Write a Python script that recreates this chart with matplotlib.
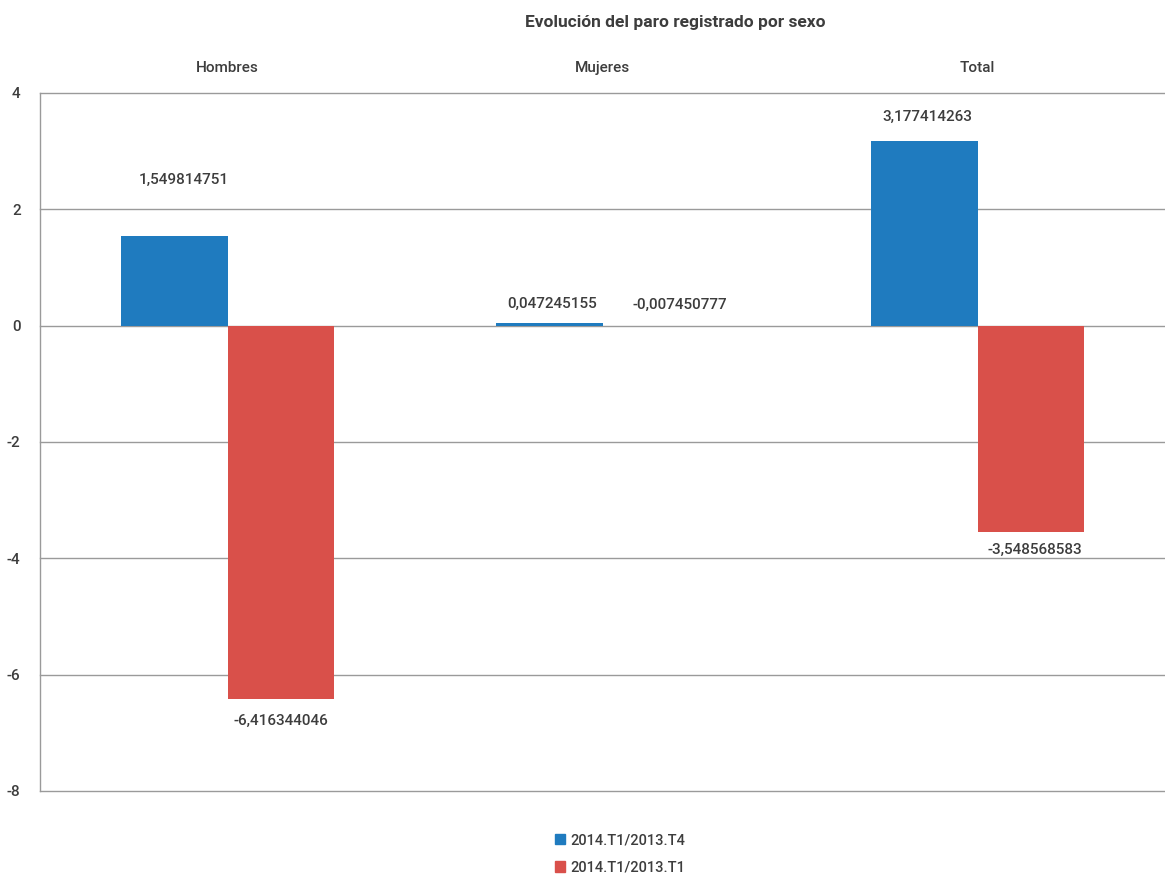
import matplotlib
matplotlib.use("Agg")
import matplotlib.pyplot as plt
import numpy as np
from matplotlib.patches import Patch

categories = ["Hombres", "Mujeres", "Total"]
series_names = ["2014.T1/2013.T4", "2014.T1/2013.T1"]
values_t4 = [1.549814751, 0.047245155, 3.177414263]
values_t1 = [-6.416344046, -0.007450777, -3.548568583]
labels_t4 = ["1,549814751", "0,047245155", "3,177414263"]
labels_t1 = ["-6,416344046", "-0,007450777", "-3,548568583"]
yticks = [4, 2, 0, -2, -4, -6, -8]

plt.rcParams['font.family'] = ['Roboto', 'DejaVu Sans']
txt = "#3d3d3d"
blue = "#1f7bbf"
red = "#d9504a"
gridc = "#9a9a9a"

fig = plt.figure(figsize=(11.65, 8.77), dpi=100)
ax = fig.add_axes([40/1165, 1-791/877, 1-40/1165, (791-93)/877])

x = np.arange(len(categories))
w = 0.285
ax.bar(x - w/2, values_t4, w, color=blue, zorder=3)
ax.bar(x + w/2, values_t1, w, color=red, zorder=3)

ax.set_xlim(-0.5, 2.5)
ax.set_ylim(-8, 4)
ax.set_yticks(yticks)
ax.set_yticklabels([str(t) for t in yticks], fontsize=11, color=txt, fontweight="medium")
ax.tick_params(axis='y', length=0, pad=14)
ax.set_xticks([])
for t in yticks:
    ax.axhline(t, color=gridc, lw=1.0, zorder=1, clip_on=False)
for s in ["top", "right", "bottom"]:
    ax.spines[s].set_visible(False)
ax.spines["left"].set_color(gridc)
ax.spines["left"].set_linewidth(1.0)

# category labels above plot
for i, c in enumerate(categories):
    ax.annotate(c, (x[i], 4), xytext=(0, 18), textcoords="offset points",
                ha="center", va="center", fontsize=11, color=txt, fontweight="medium")

# value labels (offsets in points, x/y)
off_t4 = [(7, 40), (2, 14), (2, 17)]
off_t1 = [(0, -16), (17, 15), (3, -13)]
for i in range(len(categories)):
    ax.annotate(labels_t4[i], (x[i] - w/2, values_t4[i]), xytext=off_t4[i],
                textcoords="offset points", ha="center", va="center",
                fontsize=11, color=txt, fontweight="medium")
    ax.annotate(labels_t1[i], (x[i] + w/2, values_t1[i]), xytext=off_t1[i],
                textcoords="offset points", ha="center", va="center",
                fontsize=11, color=txt, fontweight="medium")

fig.text(0.58, 1-22/877, "Evolución del paro registrado por sexo",
         ha="center", va="center", fontsize=12.5, fontweight="bold", color=txt)

handles = [Patch(color=blue), Patch(color=red)]
fig.legend(handles, series_names, loc="center", bbox_to_anchor=(620/1165, 1-854/877),
           ncol=1, frameon=False, fontsize=10.5, handlelength=0.7, handleheight=0.7,
           handletextpad=0.4, labelspacing=0.9, labelcolor=txt,
           prop={"weight": "medium", "size": 10.5})

fig.savefig("out.png", dpi=100)
